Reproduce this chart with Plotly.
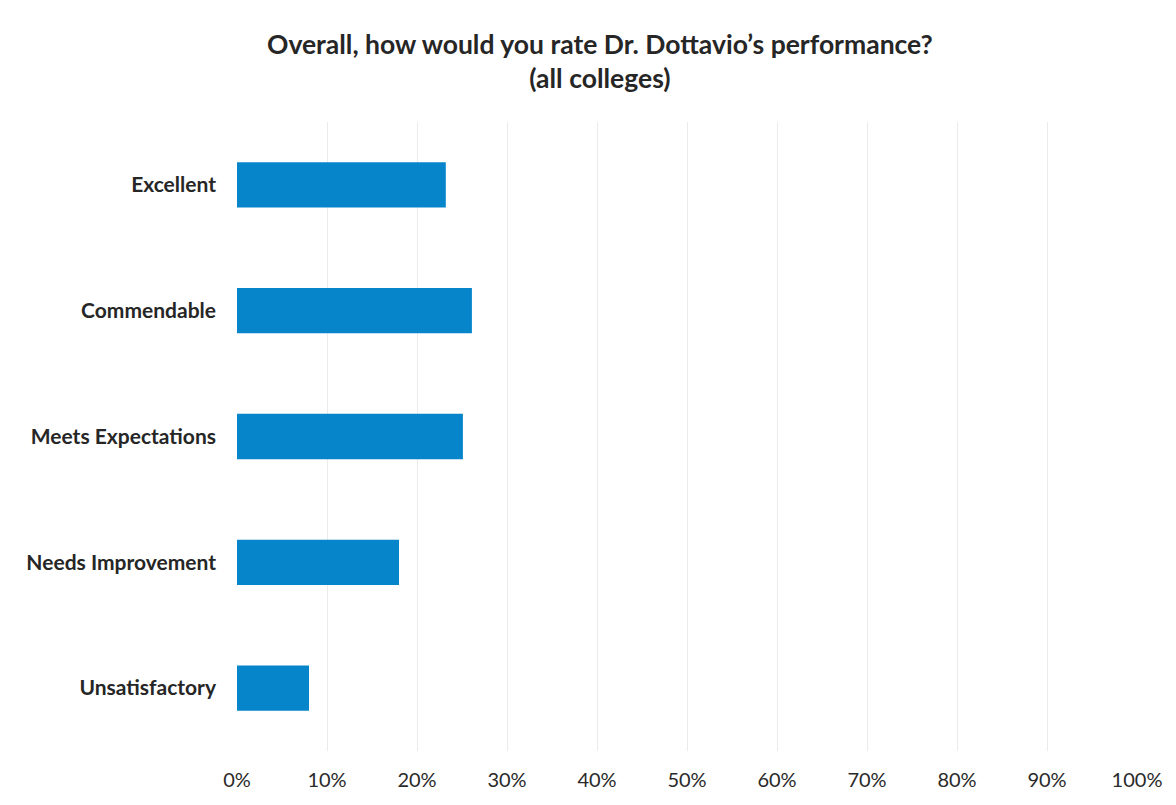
import plotly.graph_objects as go

categories = ["Excellent", "Commendable", "Meets Expectations", "Needs Improvement", "Unsatisfactory"]
values = [0.232, 0.261, 0.251, 0.180, 0.080]
tick_vals = [0, 0.1, 0.2, 0.3, 0.4, 0.5, 0.6, 0.7, 0.8, 0.9, 1.0]
tick_text = ["0%", "10%", "20%", "30%", "40%", "50%", "60%", "70%", "80%", "90%", "100%"]
title_text = "Overall, how would you rate Dr. Dottavio’s performance?<br>(all colleges)"

fig = go.Figure(go.Bar(
    x=values, y=categories, orientation="h",
    marker=dict(color="#0785CB", line=dict(width=0)),
))

fig.update_layout(
    width=1176, height=805,
    margin=dict(l=237, r=39, t=122, b=54),
    paper_bgcolor="white", plot_bgcolor="white",
    bargap=0.64,
    showlegend=False,
    font=dict(family="Lato, Open Sans, sans-serif", color="#262626"),
    annotations=[dict(
        text="<b>" + title_text + "</b>", xref="paper", yref="paper",
        x=(600 - 237) / 900, y=(751 - 61) / 629, xanchor="center", yanchor="middle",
        showarrow=False, align="center",
        font=dict(family="Lato, Open Sans, sans-serif", size=26.5, color="#262626"),
    )],
)
fig.update_xaxes(
    range=[0, 1], tickvals=tick_vals, ticktext=tick_text,
    showgrid=True, gridcolor="#EBEBEB", gridwidth=1,
    zeroline=False, showline=False,
    tickfont=dict(size=20, color="#2a2a2a"), ticklabelstandoff=15,
)
fig.update_yaxes(
    autorange="reversed", showgrid=False, showline=False, zeroline=False,
    tickfont=dict(size=21, color="#262626", weight="bold"), ticklabelstandoff=20,
)

fig.write_html("out.html")
